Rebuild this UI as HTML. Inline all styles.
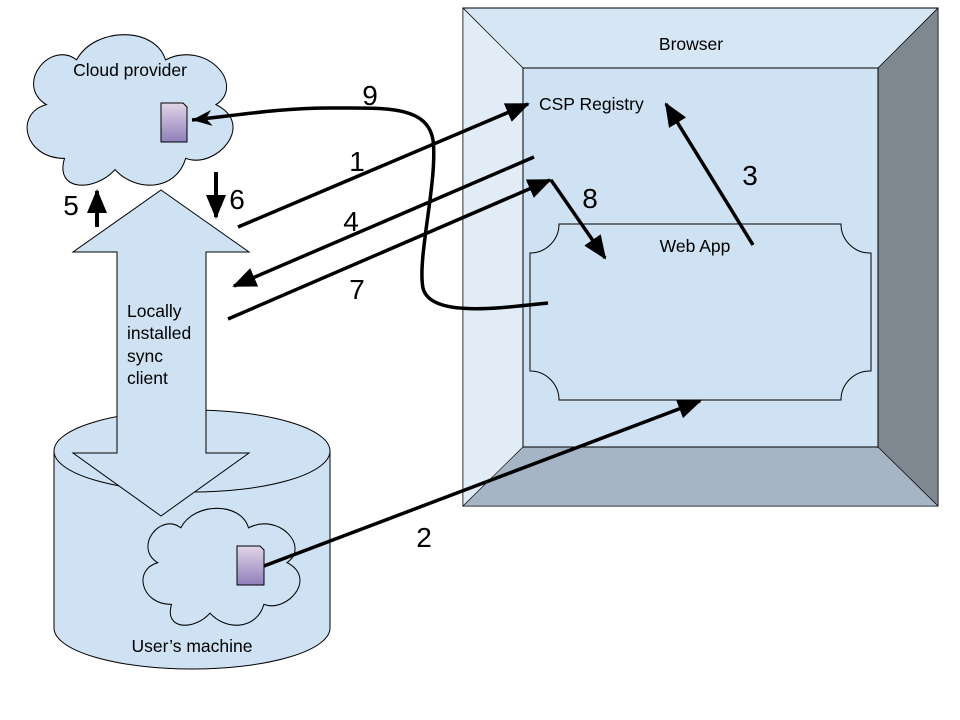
<!DOCTYPE html>
<html><head><meta charset="utf-8"><style>body{margin:0;background:#fff}svg{display:block}text{font-family:"Liberation Sans",Arial,sans-serif}</style></head>
<body>
<svg width="960" height="720" viewBox="0 0 960 720" xmlns="http://www.w3.org/2000/svg">
<defs>
<linearGradient id="doc" x1="0" y1="0" x2="0" y2="1"><stop offset="0" stop-color="#e1d5e7"/><stop offset="1" stop-color="#8f7fbb"/></linearGradient>
<marker id="big" markerWidth="24" markerHeight="20" refX="22" refY="10" orient="auto" markerUnits="userSpaceOnUse"><path d="M0,0 L24,10 L0,20 Z" fill="#000"/></marker>
<marker id="open" markerWidth="24" markerHeight="20" refX="22" refY="10" orient="auto" markerUnits="userSpaceOnUse"><path d="M2,2 L22,10 L2,18 L8,10 Z" fill="#000"/></marker>
</defs>

<!-- cloud provider -->
<g transform="translate(14,24) scale(2.02,2.24)">
<path d="M25 60 C5 60 0 40 16 36 C0 27 18 7 31 16 C40 1 70 1 75 16 C95 7 115 27 100 36 C120 45 100 65 85 60 C80 75 60 75 50 65 C40 75 20 75 25 60 Z" fill="#cfe2f3" stroke="#000" stroke-width="0.5"/>
</g>
<text x="130" y="76" font-size="17.5" text-anchor="middle">Cloud provider</text>
<path d="M161,103 H183 L187,107 V142 H161 Z" fill="url(#doc)" stroke="#000"/>

<!-- cylinder -->
<path d="M54,451 V628 A138,41 0 0 0 330,628 V451 A138,41 0 0 0 54,451 Z" fill="#cfe2f3" stroke="#000"/>
<path d="M54,451 A138,41 0 0 0 330,451" fill="none" stroke="#000"/>
<text x="192" y="652" font-size="17.5" text-anchor="middle">User’s machine</text>

<!-- double arrow -->
<path d="M161,190 L249,252 H206 V453 H249 L161,516 L73,453 H117 V252 H73 Z" fill="#cfe2f3" stroke="#000"/>
<text font-size="17.5" x="127" y="317">Locally</text>
<text font-size="17.5" x="127" y="339">installed</text>
<text font-size="17.5" x="127" y="362">sync</text>
<text font-size="17.5" x="127" y="384">client</text>

<!-- local cloud -->
<g transform="translate(133,500) scale(1.54,1.74)">
<path d="M25 60 C5 60 0 40 16 36 C0 27 18 7 31 16 C40 1 70 1 75 16 C95 7 115 27 100 36 C120 45 100 65 85 60 C80 75 60 75 50 65 C40 75 20 75 25 60 Z" fill="#cfe2f3" stroke="#000" stroke-width="0.65"/>
</g>
<path d="M237,546 H260 L264,550 V585 H237 Z" fill="url(#doc)" stroke="#000"/>

<!-- browser -->
<rect x="463" y="8" width="475" height="498" fill="#d6e6f5" stroke="#000"/>
<path d="M463,8 L523,68 V447 L463,506 Z" fill="#e1ecf7" stroke="#000" stroke-width="0.6"/>
<path d="M938,8 L878,68 V447 L938,506 Z" fill="#7f8891" stroke="#000" stroke-width="0.6"/>
<path d="M463,506 L523,447 H878 L938,506 Z" fill="#a5b5c5" stroke="#000" stroke-width="0.6"/>
<path d="M463,8 L523,68 M938,8 L878,68" stroke="#000" stroke-width="0.6"/>
<rect x="523" y="68" width="355" height="379" fill="#cfe2f3" stroke="#000"/>
<text x="691" y="50" font-size="17.5" text-anchor="middle">Browser</text>
<text x="539" y="110" font-size="17.5">CSP Registry</text>
<path d="M559,224 H841 A29,29 0 0 0 871,253 V371 A29,29 0 0 0 841,400 H559 A29,29 0 0 0 530,371 V253 A29,29 0 0 0 559,224 Z" fill="#cfe2f3" stroke="#000"/>
<text x="695" y="252" font-size="17.5" text-anchor="middle">Web App</text>

<!-- connectors -->
<g stroke="#000" stroke-width="3.5" fill="none">
<line x1="238" y1="227" x2="528" y2="104" marker-end="url(#big)"/>
<line x1="534" y1="157" x2="234" y2="286" marker-end="url(#big)"/>
<line x1="228" y1="319" x2="550" y2="180" marker-end="url(#big)"/>
<line x1="551" y1="180" x2="605" y2="258" marker-end="url(#big)"/>
<line x1="753" y1="245" x2="666" y2="104" marker-end="url(#big)"/>
<line x1="264" y1="566" x2="700" y2="401" marker-end="url(#big)"/>
<line x1="97" y1="227" x2="97" y2="191" stroke-width="4" marker-end="url(#big)"/>
<line x1="216" y1="172" x2="216" y2="217" stroke-width="4" marker-end="url(#big)"/>
<path d="M548,303 C500,308 430,318 423,288 C417,258 438,180 433,140 C427,105 385,108 330,108 C280,108 240,115 192,120" marker-end="url(#open)"/>
</g>

<g font-size="28">
<text x="370" y="105" text-anchor="middle">9</text>
<text x="357" y="171" text-anchor="middle">1</text>
<text x="237" y="209" text-anchor="middle">6</text>
<text x="71" y="215" text-anchor="middle">5</text>
<text x="351" y="231" text-anchor="middle">4</text>
<text x="357" y="299" text-anchor="middle">7</text>
<text x="590" y="208" text-anchor="middle">8</text>
<text x="750" y="185" text-anchor="middle">3</text>
<text x="424" y="547" text-anchor="middle">2</text>
</g>
</svg>
</body></html>
